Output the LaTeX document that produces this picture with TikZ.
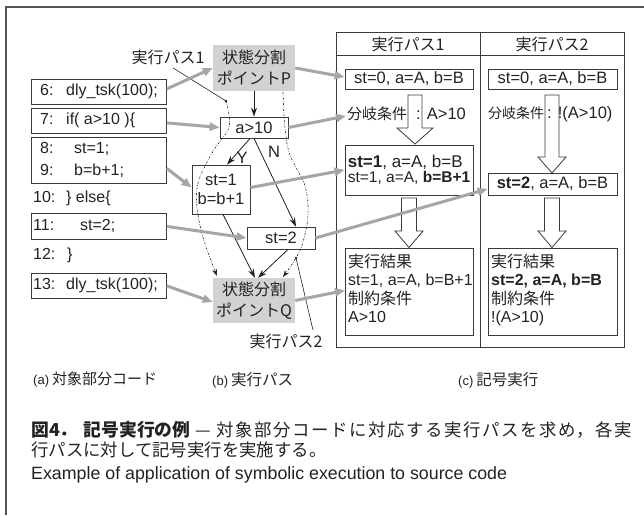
\documentclass[tikz,border=0pt]{standalone}
\usepackage{fontspec}
\setmainfont{Liberation Sans}
\newfontfamily\jp{Noto Sans CJK JP}
\usetikzlibrary{arrows.meta,calc}
\definecolor{ink}{HTML}{222222}
\definecolor{edgec}{HTML}{3A3A3A}
\definecolor{gfill}{HTML}{D2D2D2}
\definecolor{garr}{HTML}{A6A6A6}
\definecolor{framec}{HTML}{555555}
\newcommand\blkarrow[6]{%
  \draw[blk] ({#1-#5},#2) -- ({#1+#5},#2) -- ({#1+#5},#3) -- ({#1+#6},#3) -- (#1,#4)
    -- ({#1-#6},#3) -- ({#1-#5},#3) -- cycle;}
\tikzset{
  lat/.style={font=\fontsize{16.5}{19}\selectfont},
  codet/.style={font=\fontsize{16}{18}\selectfont, anchor=west, inner sep=0pt},
  jpl/.style={font=\jp\fontsize{16}{18}\selectfont},
  rbox/.style={draw=edgec, line width=0.8pt, inner sep=0pt},
  gbox/.style={fill=gfill, inner sep=0pt, align=center, font=\jp\fontsize{16}{21}\selectfont},
  garrow/.style={draw=garr, line width=3pt, -{Triangle[length=10pt,width=8pt]}},
  barrow/.style={draw=ink, line width=0.8pt, -{Stealth[length=9pt,width=6pt]}},
  ddarrow/.style={draw=ink, line width=0.6pt, dash pattern=on 2pt off 1.5pt on 0.6pt off 1.5pt, -{Stealth[length=7pt,width=5pt]}},
  ptr/.style={draw=ink, line width=0.6pt},
  blk/.style={draw=edgec, line width=0.8pt, fill=white},
}
\begin{document}
\begin{tikzpicture}[x=1pt,y=-1pt, every node/.append style={text=ink}]
\useasboundingbox (0,0) rectangle (644,515);
\draw[framec, line width=1.5pt] (6,515) -- (6,7) -- (644,7);

% ---- (a) code boxes
\node[rbox, anchor=north west, minimum width=135pt, minimum height=25pt] (c6) at (31,79) {};
\node[rbox, anchor=north west, minimum width=135pt, minimum height=25pt] (c7) at (31,108) {};
\node[rbox, anchor=north west, minimum width=135pt, minimum height=46pt] (c89) at (31,137) {};
\node[rbox, anchor=north west, minimum width=135pt, minimum height=26pt] (c11) at (31,213) {};
\node[rbox, anchor=north west, minimum width=135pt, minimum height=25pt] (c13) at (31,273) {};
\node[codet] (t6) at (40,91.5) {\makebox[26pt][l]{6:}dly\_tsk(100);};
\node[codet] (t7) at (40,120.5) {\makebox[26pt][l]{7:}if( a>10 )\{};
\node[codet] (t8) at (40,149) {\makebox[34pt][l]{8:}st=1;};
\node[codet] (t9) at (40,171) {\makebox[34pt][l]{9:}b=b+1;};
\node[codet] (t10) at (33,198) {\makebox[33pt][l]{10:}\} else\{};
\node[codet] (t11) at (33,226) {\makebox[47pt][l]{11:}st=2;};
\node[codet] (t12) at (33,255) {\makebox[34pt][l]{12:}\}};
\node[codet] (t13) at (33,285.5) {\makebox[33pt][l]{13:}dly\_tsk(100);};

% ---- (b) execution paths
\node[gbox, minimum width=82pt, minimum height=46pt] (P) at (254,68) {状態分割\\ポイントP};
\node[rbox, lat, minimum width=68pt, minimum height=21pt] (A) at (254,127.5) {a>10};
\node[rbox, lat, align=center, minimum width=58pt, minimum height=49pt] (S1) at (221,189.5) {st=1\\b=b+1};
\node[rbox, lat, minimum width=68pt, minimum height=22pt] (S2) at (281,238) {st=2};
\node[gbox, minimum width=82pt, minimum height=45pt] (Q) at (254,300.5) {状態分割\\ポイントQ};
\node[jpl] (L1) at (168,57) {実行パス1};
\node[jpl] (L2) at (286,341) {実行パス2};
\node[lat] (Y) at (242,158) {Y};
\node[lat] (N) at (274,152) {N};

\draw[barrow] (P.south) -- (A.north);
\draw[barrow] ($(A.south)+(-4,0)$) -- ($(S1.north)+(6,0)$);
\draw[barrow] (A.south) -- ($(S2.north)+(15,0)$);
\draw[barrow] ($(S1.south)+(2,0)$) -- ($(Q.north)+(1,0)$);
\draw[barrow] ($(S2.south)+(7,0)$) -- ($(Q.north)+(4,0)$);

\coordinate (d1) at (226,101);
\coordinate (d2) at (296,258);
\draw[ddarrow] plot[smooth, tension=0.6] coordinates {(226,101) (229,127) (212,153) (197,188) (201,230) (217,276)};
\draw[ddarrow] plot[smooth, tension=0.6] coordinates {(283,92) (285,128) (290,155) (305,186) (308,215) (303,242) (296,258) (283,277)};
\fill[ink] (d1) circle (1.4);
\fill[ink] (d2) circle (1.4);
\draw[ptr] ($(L1.south)+(5,0)$) -- (d1);
\draw[ptr] ($(L2.north)+(27,0)$) -- (d2);

% ---- (c) symbolic execution table
\node[rbox, anchor=north west, minimum width=288pt, minimum height=315pt] (T) at (336,32) {};
\draw[edgec, line width=0.8pt] ($(T.north west)+(0,23)$) -- ($(T.north east)+(0,23)$);
\draw[edgec, line width=0.8pt] ($(T.north west)+(144,0)$) -- ($(T.south west)+(144,0)$);
\node[jpl] (H1) at (408,44) {実行パス1};
\node[jpl] (H2) at (552,44) {実行パス2};

\blkarrow{415}{95}{128}{144}{7}{18}
\blkarrow{552}{95}{157}{173}{7}{14}
\blkarrow{409}{198}{231}{247.5}{7.5}{14}
\blkarrow{552}{198}{231}{247.5}{7.5}{14}

\node[rbox, lat, minimum width=128pt, minimum height=20pt] (R1a) at (409,79) {st=0, a=A, b=B};
\node[rbox, lat, minimum width=129pt, minimum height=20pt] (R2a) at (552.5,79) {st=0, a=A, b=B};
\node[lat, anchor=west, inner sep=0pt] (B1) at (347,114) {{\jp\fontsize{15}{18}\selectfont 分岐条件}\hspace{9pt}: A>10};
\node[lat, anchor=west, inner sep=0pt] (B2) at (488,114) {{\jp\fontsize{14}{18}\selectfont 分岐条件}\hspace{3pt}: !(A>10)};
\node[rbox, align=left, minimum width=128pt, minimum height=50pt] (R1b) at (409,170)
  {{\fontsize{17}{20}\selectfont\textbf{st=1}, a=A, b=B}\\{\fontsize{15.5}{18}\selectfont st=1, a=A, \textbf{b=B+1}}};
\node[rbox, lat, minimum width=129pt, minimum height=22pt] (R2b) at (552.5,184) {\textbf{st=2}, a=A, b=B};

\node[rbox, anchor=north west, minimum width=128pt, minimum height=87pt] (R1c) at (345,248) {};
\node[rbox, anchor=north west, minimum width=129pt, minimum height=87pt] (R2c) at (488,248) {};
\node[anchor=north west, inner sep=0pt, align=left, font=\fontsize{16}{18.3}\selectfont] (R1ct) at (348,254)
  {{\jp 実行結果}\\st=1, a=A, b=B+1\\{\jp 制約条件}\\A>10};
\node[anchor=north west, inner sep=0pt, align=left, font=\fontsize{16}{18.3}\selectfont] (R2ct) at (491,254)
  {{\jp 実行結果}\\\textbf{st=2, a=A, b=B}\\{\jp 制約条件}\\!(A>10)};

% ---- gray mapping arrows
\draw[garrow] ($(c6.east)+(0,-3)$) -- (P.west);
\draw[garrow] ($(c7.east)+(0,2)$) -- (A.west);
\draw[garrow] ($(c89.east)+(0,8)$) -- ($(S1.west)+(0,-2)$);
\draw[garrow] (c11.east) -- (S2.west);
\draw[garrow] (c13.east) -- ($(Q.west)+(0,1.5)$);
\draw[garrow] (P.east) -- ($(R1a.west)+(0,-2)$);
\draw[garrow] (A.east) -- ($(B1.west)+(-1,2)$);
\draw[garrow] ($(S1.east)+(0,-2)$) -- (R1b.west);
\draw[garrow] (S2.east) -- ($(R2b.west)+(0,5)$);
\draw[garrow] (Q.east) -- ($(R1c.west)+(0,-1.5)$);

% ---- sub captions
\node[anchor=west, inner sep=0pt] (capa) at (33,380) {{\fontsize{13}{14}\selectfont(a)}\hspace{3pt}{\jp\fontsize{15}{17}\selectfont 対象部分コード}};
\node[anchor=west, inner sep=0pt] (capb) at (212,380) {{\fontsize{13}{14}\selectfont(b)}\hspace{3pt}{\jp\fontsize{15.5}{17}\selectfont 実行パス}};
\node[anchor=west, inner sep=0pt] (capc) at (458,380) {{\fontsize{13}{14}\selectfont(c)}\hspace{3pt}{\jp\fontsize{15.5}{17}\selectfont 記号実行}};

% ---- figure caption
\node[anchor=west, inner sep=0pt] (cap1) at (31,430)
  {{\jp\bfseries\fontsize{17.8}{20}\selectfont 図4．\hspace{6pt}記号実行の例}\hspace{5pt}{\jp\fontsize{17.4}{20}\selectfont —}\hspace{6pt}{\jp\fontsize{17.4}{20}\selectfont\addfontfeatures{LetterSpace=9}対象部分コードに対応する実行パスを求め，各実}};
\node[anchor=west, inner sep=0pt] (cap2) at (31,450)
  {\jp\fontsize{17.4}{20}\selectfont 行パスに対して記号実行を実施する。};
\node[anchor=west, inner sep=0pt] (cap3) at (31,475)
  {\fontsize{17.8}{20}\selectfont Example of application of symbolic execution to source code};
\end{tikzpicture}
\end{document}
